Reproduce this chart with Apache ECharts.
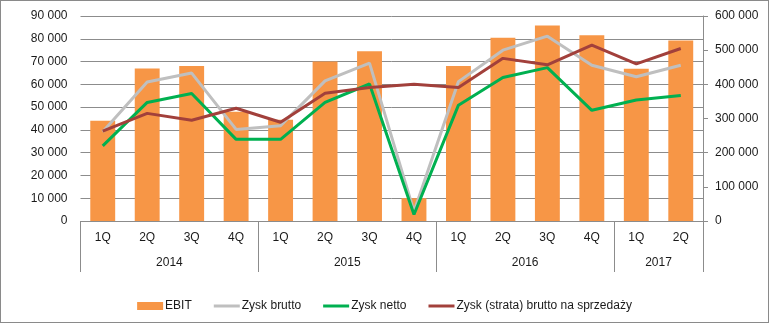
<!DOCTYPE html>
<html>
<head>
<meta charset="utf-8">
<script src="https://cdn.jsdelivr.net/npm/echarts@6/dist/echarts.min.js"></script>
<style>
html,body{margin:0;padding:0;background:#fff;}
#wrap{width:769px;height:323px;box-sizing:border-box;border:1px solid #8a8a8a;position:relative;}
#chart{position:absolute;left:-1px;top:-1px;width:769px;height:323px;}
</style>
</head>
<body>
<div id="wrap"><div id="chart"></div></div>
<script>
const quarters = ['1Q','2Q','3Q','4Q','1Q','2Q','3Q','4Q','1Q','2Q','3Q','4Q','1Q','2Q'];
const years = ['2014','2015','2016','2017'];
const yearSpans = [4,4,4,2];
const ebit = [44000,67000,68000,48000,44500,70000,74500,10000,68000,80500,85800,81500,66800,79200];
const zyskBrutto = [261000,407000,433000,268000,279000,410000,462000,28000,408000,500000,541000,456000,422000,456000];
const zyskNetto = [220000,347000,373000,239000,239000,347000,401000,19000,339000,420000,449000,324000,354000,367000];
const zyskSprzedazy = [263000,315000,295000,330000,289000,374000,391000,400000,391000,476000,457000,515000,460000,505000];
const leftTicks = {min:0, max:90000, interval:10000};
const rightTicks = {min:0, max:600000, interval:100000};

const boundaries = [0];
const centers = [];
yearSpans.forEach(s => { const start = boundaries[boundaries.length-1]; centers.push(start + s/2); boundaries.push(start + s); });
const total = boundaries[boundaries.length-1];

const fmt = v => String(v).replace(/\B(?=(\d{3})+(?!\d))/g, ' ');
const font = 'Liberation Sans, Arial, sans-serif';
const txt = '#1a1a1a';
const gridColor = '#8c8c8c';

const chart = echarts.init(document.getElementById('chart'));
chart.setOption({
  animation: false,
  textStyle: {fontFamily: font},
  grid: {left: 80.5, right: 66, top: 16, bottom: 102},
  legend: {
    top: 295, left: 'center', itemGap: 22, itemWidth: 26, itemHeight: 8,
    textStyle: {fontFamily: font, fontSize: 12, color: txt, padding: [0,0,0,-3]},
    data: [
      {name: 'EBIT', icon: 'rect'},
      {name: 'Zysk brutto', icon: 'path://M0,0H26V3H0Z'},
      {name: 'Zysk netto', icon: 'path://M0,0H26V3H0Z'},
      {name: 'Zysk (strata) brutto na sprzedaży', icon: 'path://M0,0H26V3H0Z'}
    ]
  },
  xAxis: [
    {
      type: 'category', data: quarters, position: 'bottom',
      axisLine: {show: true, lineStyle: {color: gridColor, width: 1}},
      axisTick: {show: false},
      axisLabel: {margin: 11, color: txt, fontSize: 12, fontFamily: font, interval: 0}
    },
    {
      type: 'value', min: 0, max: total, position: 'bottom',
      axisLine: {show: false},
      splitLine: {show: false},
      axisTick: {show: true, customValues: boundaries, length: 51, lineStyle: {color: gridColor, width: 1}},
      axisLabel: {show: true, customValues: centers, margin: 36, color: txt, fontSize: 12, fontFamily: font,
        formatter: v => { const i = centers.indexOf(v); return i >= 0 ? years[i] : ''; }}
    }
  ],
  yAxis: [
    {
      type: 'value', min: leftTicks.min, max: leftTicks.max, interval: leftTicks.interval,
      axisLine: {show: false}, axisTick: {show: false},
      splitLine: {show: true, lineStyle: {color: gridColor, width: 1}},
      axisLabel: {margin: 13, color: txt, fontSize: 12, fontFamily: font, formatter: fmt}
    },
    {
      type: 'value', min: rightTicks.min, max: rightTicks.max, interval: rightTicks.interval, position: 'right',
      axisLine: {show: true, lineStyle: {color: gridColor, width: 1}},
      axisTick: {show: true, length: 5, lineStyle: {color: gridColor}},
      splitLine: {show: false},
      axisLabel: {margin: 12, color: txt, fontSize: 12, fontFamily: font, formatter: fmt}
    }
  ],
  series: [
    {name: 'EBIT', type: 'bar', data: ebit, yAxisIndex: 0, barWidth: '56%', itemStyle: {color: '#F79646'}},
    {name: 'Zysk brutto', type: 'line', data: zyskBrutto, yAxisIndex: 1, symbol: 'none', lineStyle: {color: '#BFBFBF', width: 3}, itemStyle: {color: '#BFBFBF'}},
    {name: 'Zysk netto', type: 'line', data: zyskNetto, yAxisIndex: 1, symbol: 'none', lineStyle: {color: '#00B050', width: 3}, itemStyle: {color: '#00B050'}},
    {name: 'Zysk (strata) brutto na sprzedaży', type: 'line', data: zyskSprzedazy, yAxisIndex: 1, symbol: 'none', lineStyle: {color: '#A2403B', width: 3}, itemStyle: {color: '#A2403B'}}
  ]
});
</script>
</body>
</html>
